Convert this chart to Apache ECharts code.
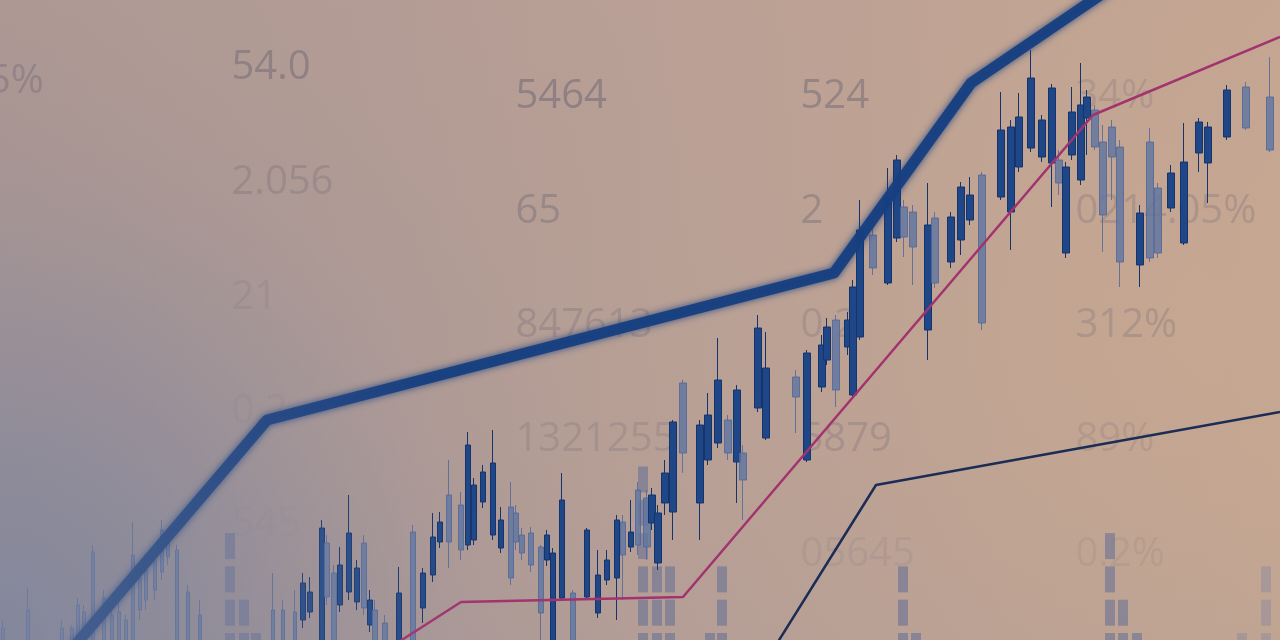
<!DOCTYPE html>
<html><head><meta charset="utf-8">
<script src="https://cdn.jsdelivr.net/npm/echarts@6/dist/echarts.min.js"></script>
<style>html,body{margin:0;padding:0;background:#b9a094;overflow:hidden}#c{width:1280px;height:640px}</style>
</head><body><div id="c"></div>
<script>
// ---- candles (x position, open, close, low, high in price units; fade flag)
const candleX = [3,28,62,72,78,84,93,104,112,119,126,133,140,146,155,162,168,177,188,200,
 273,283,295,303,310,322,327,334,340,349,357,364,370,375,385,399,413,
 423,433,440,449,461,468,474,483,493,501,511,516,522,531,541,547,553,562,573,587,598,607,617,623,631,638,
 647,652,658,665,673,683,700,708,718,728,737,743,758,766,
 796,807,822,827,836,848,853,860,873,888,897,904,913,928,935,951,961,970,982,
 1001,1011,1019,1031,1042,1052,1059,1066,1072,1081,1087,1095,1103,1112,1120,1140,1150,1158,1171,1184,1199,1208,1227,1246,1270];
const candleOpen = [-5,-5,-5,-5,-5,0,-5,-5,-5,-5,-5,-5,30,40,50,68,83,-5,-5,-5,
 -5,-5,-5,20,28,-5,43,-5,35,48,38,32,15,-5,-5,-5,-5,
 32,65,98,98,90,95,100,138,105,92,62,98,87,75,27,80,-5,42,-5,43,27,60,62,85,93,95,
 93,117,77,137,128,187,137,180,197,187,178,160,232,202,
 243,180,253,280,250,293,245,303,372,357,402,403,393,310,357,378,400,420,317,
 443,428,473,492,483,477,457,387,485,460,522,493,425,483,378,375,382,387,432,397,487,477,503,512,490];
const candleClose = [12,30,12,12,35,28,88,42,25,28,20,85,62,70,80,110,100,90,48,25,
 30,30,28,57,48,112,97,67,75,107,72,97,40,30,17,47,108,
 67,103,118,145,135,195,155,168,177,120,133,127,105,107,93,105,87,140,47,110,65,80,120,118,108,150,
 142,145,127,167,218,257,215,225,260,220,250,187,312,272,
 263,287,295,313,320,320,353,410,405,442,480,433,428,415,422,423,453,445,465,
 510,513,523,562,520,552,480,473,528,535,543,530,498,513,493,427,498,452,467,478,518,513,550,553,543];
const candleLow = [-5,-5,-5,-5,-5,-5,-5,-5,-5,-5,-5,-5,20,30,40,60,75,-5,-5,-5,
 -5,-5,-5,12,22,-5,35,-5,28,40,30,25,8,-5,-5,-5,-5,
 17,58,92,72,80,90,95,132,100,87,55,90,80,68,0,74,-5,40,-5,40,22,55,20,40,88,85,
 80,110,70,125,100,167,100,175,192,180,137,120,228,200,
 207,178,248,275,233,285,243,300,365,355,398,383,355,280,352,372,385,415,310,
 440,390,468,488,478,433,445,382,480,455,485,490,388,440,353,353,378,382,428,395,468,437,500,510,488];
const candleHigh = [20,52,20,15,42,35,95,50,30,40,25,118,75,87,92,120,105,95,55,40,
 67,40,50,67,63,120,105,75,93,145,80,105,50,40,25,73,115,
 72,127,128,180,148,208,162,175,210,133,158,135,112,113,95,110,92,167,50,112,90,90,125,125,140,158,
 150,152,135,180,220,260,220,247,302,225,255,195,325,308,
 270,290,305,322,325,328,360,440,412,472,485,440,435,457,428,428,458,463,468,
 548,520,547,590,525,556,490,478,553,577,550,535,515,520,500,435,512,457,475,517,522,518,555,558,583];
const candleFade = [1,1,1,1,1,1,1,1,1,1,1,1,1,1,1,1,1,1,1,1,
 1,1,1,0,0,0,1,1,0,0,0,1,0,1,1,0,1,
 0,0,0,1,1,0,0,0,0,0,1,1,1,1,1,0,0,0,1,0,0,0,0,1,0,1,
 1,0,0,0,0,1,0,0,0,1,0,1,0,0,
 1,0,0,0,1,0,0,0,1,0,0,1,1,0,1,0,0,0,1,
 0,0,0,0,0,0,1,0,0,0,0,1,1,1,1,0,1,1,0,0,0,0,0,1,1];

// ---- lines
const thickLineX = [60,267,834,971,1093,1280];
const thickLineY = [-23,220,367,557,640,767];
const pinkLineX = [380,461,683,1093,1280];
const pinkLineY = [-14,38,43,525,603];
const navyLineX = [766,876,1280];
const navyLineY = [-21,155,228];

// ---- faint segmented volume blocks
const blockX = [230,244,256,643,657,670,710,722,903,916,1110,1123,1137,1242,1266];
const blockCount = [4,2,1,6,3,3,1,3,3,1,4,2,1,1,3];

// ---- background numbers
const labelText = ['0.5%','54.0','2.056','21','0.2','545','5464','65','847613','1321255','524','2','0.2','5879','05645','34%','0214.05%','312%','89%','0.2%'];
const labelX = [-46,231,231,231,231,231,515,515,515,515,800,800,800,800,800,1075,1075,1075,1075,1075];
const labelY = [558,572,457,342,228,115,543,428,314,200,543,428,314,200,85,543,428,314,200,85];
// styling: tone of each number
const labelTone = [0.42,0.55,0.32,0.16,0.1,0.06,0.6,0.45,0.3,0.25,0.55,0.45,0.28,0.3,0.14,0.25,0.3,0.3,0.2,0.14];

function widthFor(x){ return x < 300 ? 4 : x < 640 ? 6 : x < 900 ? 7 : 8; }
const groups = {};
candleX.forEach((x,i)=>{
  const w = widthFor(x);
  (groups[w] = groups[w] || []).push({
    value:[x,candleOpen[i],candleClose[i],candleLow[i],candleHigh[i]],
    itemStyle: candleFade[i] ? {color:'#5f75a0',color0:'#5f75a0',borderColor:'#52679a',borderColor0:'#52679a',opacity:0.82}
                             : {color:'#1f4787',color0:'#1f4787',borderColor:'#15346c',borderColor0:'#15346c',opacity:1}
  });
});
const candleSeries = Object.keys(groups).map(w=>({
  type:'candlestick', z:3, clip:true, barWidth:+w,
  encode:{x:0,y:[1,2,3,4]},
  itemStyle:{borderWidth:1},
  data:groups[w], silent:true
}));

const pairs = (xs,ys)=>xs.map((x,i)=>[x,ys[i]]);
const SEG_BASE = -19, SEG_H = 26, SEG_PITCH = 33.3;

const chart = echarts.init(document.getElementById('c'), null, {renderer:'canvas'});
chart.setOption({
  animation:false,
  graphic:[
    {type:'rect', z:-20, silent:true, shape:{x:0,y:0,width:1280,height:640},
     style:{fill:{type:'linear',x:0,y:0,x2:1,y2:0,colorStops:[
       {offset:0,color:'#a79592'},{offset:0.3,color:'#b09b95'},{offset:0.55,color:'#b9a095'},
       {offset:0.8,color:'#c2a592'},{offset:1,color:'#c6a791'}]}}},
    {type:'rect', z:-19, silent:true, shape:{x:0,y:0,width:1280,height:640},
     style:{fill:{type:'linear',x:0,y:0,x2:0,y2:1,colorStops:[
       {offset:0,color:'rgba(190,160,150,0.25)'},{offset:0.5,color:'rgba(190,160,150,0)'},{offset:1,color:'rgba(150,145,160,0.12)'}]}}},
    {type:'rect', z:-18, silent:true, shape:{x:-640,y:0,width:1280,height:1280},
     style:{fill:{type:'radial',x:0.5,y:0.5,r:0.5,colorStops:[
       {offset:0,color:'rgba(110,120,150,0.8)'},{offset:0.35,color:'rgba(124,128,152,0.5)'},
       {offset:0.7,color:'rgba(150,140,152,0.16)'},{offset:1,color:'rgba(160,145,150,0)'}]}}},
    {type:'rect', z:100, silent:true, shape:{x:-500,y:140,width:1000,height:1000},
     style:{fill:{type:'radial',x:0.5,y:0.5,r:0.5,colorStops:[
       {offset:0,color:'rgba(145,148,165,0.42)'},{offset:0.6,color:'rgba(145,148,165,0.16)'},{offset:1,color:'rgba(145,148,165,0)'}]}}}
  ],
  grid:{left:0,right:0,top:0,bottom:0},
  xAxis:{type:'value',min:0,max:1280,show:false},
  yAxis:{type:'value',min:0,max:640,show:false},
  series:[
    {type:'scatter', z:1, silent:true, clip:false, symbolSize:1, itemStyle:{color:'rgba(0,0,0,0)'},
     data:labelText.map((t,i)=>({name:t,value:[labelX[i],labelY[i]],
       label:{color:'rgba(100,96,112,'+labelTone[i]+')'}})),
     label:{show:true,position:'right',distance:0,formatter:p=>p.name,
       fontFamily:'Open Sans',fontSize:40,fontWeight:'normal'}},
    {type:'custom', z:2, silent:true,
     data:blockX.map((x,i)=>[x,blockCount[i]]),
     renderItem:(params,api)=>{
       const x = api.value(0), n = api.value(1), ch = [];
       for(let i=0;i<n;i++){
         const t = api.coord([x, SEG_BASE+i*SEG_PITCH+SEG_H]);
         const b = api.coord([x, SEG_BASE+i*SEG_PITCH]);
         ch.push({type:'rect',shape:{x:t[0]-5,y:t[1],width:10,height:b[1]-t[1]},
           style:{fill: x>1200 ? 'rgba(120,128,160,0.35)' : 'rgba(96,110,150,0.55)'}});
       }
       return {type:'group',children:ch};
     }},
    ...candleSeries,
    {type:'line', z:5, silent:true, symbol:'none', data:pairs(thickLineX,thickLineY),
     lineStyle:{width:11,color:'#173f80',opacity:0.95,cap:'round',join:'round',shadowBlur:7,shadowColor:'rgba(23,63,128,0.9)'}},
    {type:'line', z:6, silent:true, symbol:'none', data:pairs(pinkLineX,pinkLineY),
     lineStyle:{width:2.5,color:'#a2336e'}},
    {type:'line', z:6, silent:true, symbol:'none', data:pairs(navyLineX,navyLineY),
     lineStyle:{width:2.5,color:'#1b2c55'}}
  ]
});
</script>
</body></html>
